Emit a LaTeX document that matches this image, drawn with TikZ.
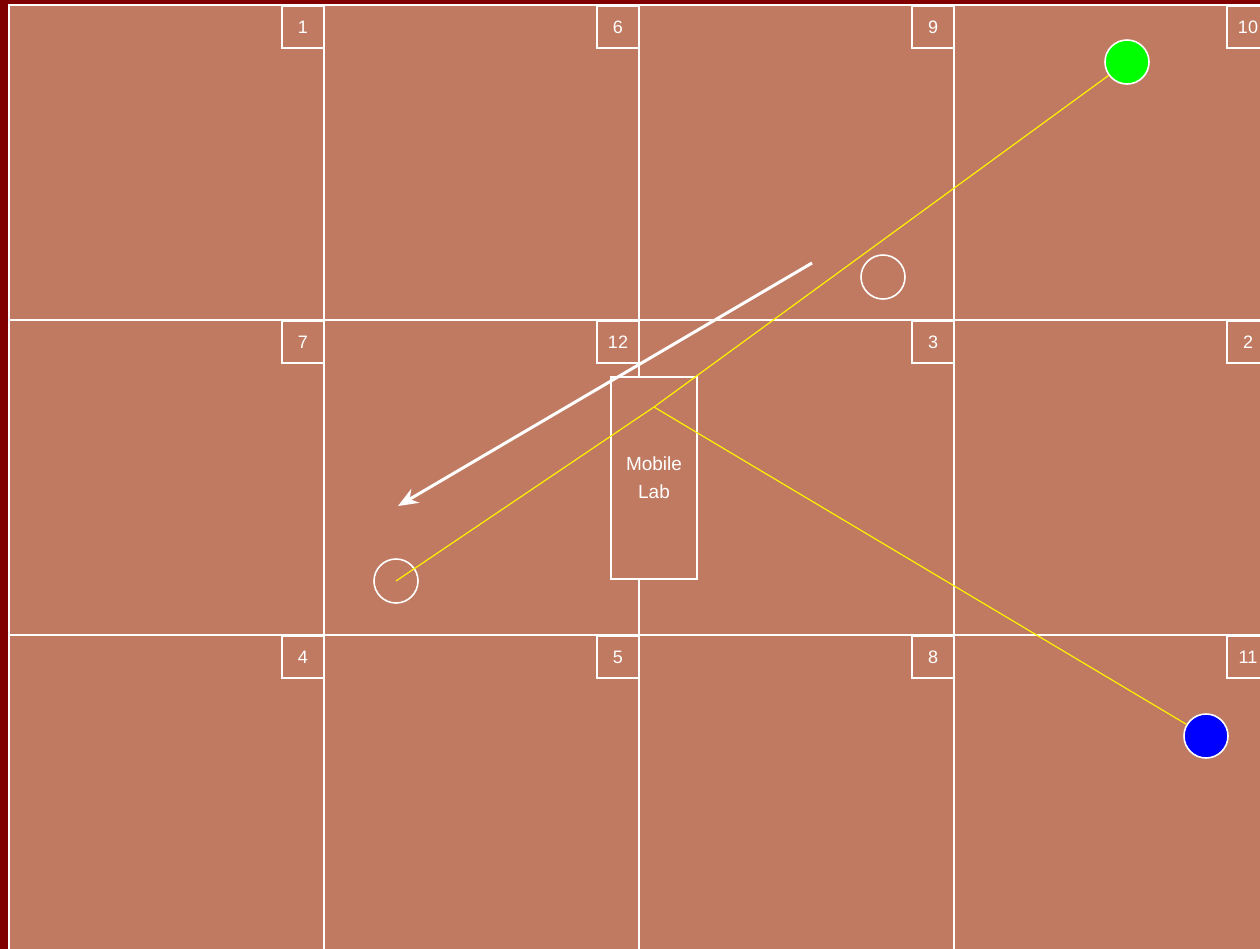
\documentclass[tikz,border=0pt]{standalone}
\usepackage{fontspec}
\setmainfont{Liberation Sans}
\usetikzlibrary{arrows.meta}
\definecolor{floorbrown}{RGB}{192,122,98}
\definecolor{edgered}{RGB}{128,0,0}

\begin{document}
\begin{tikzpicture}[x=0.5pt,y=-0.5pt,
    cellbox/.style={draw=white,line width=1pt,fill=floorbrown},
    tagbox/.style={draw=white,line width=1pt,anchor=north east,minimum width=21pt,
      minimum height=21pt,inner sep=0pt,text=white,font=\fontsize{9}{10}\selectfont},
    labbox/.style={draw=white,line width=0.8pt,minimum width=43pt,minimum height=101pt,
      inner sep=0pt,align=center,text=white,font=\fontsize{9.5}{14}\selectfont},
    marker/.style={circle,draw=white,line width=0.8pt,minimum size=22pt,inner sep=0pt},
    link/.style={yellow,line width=0.6pt}]
  % Frame and floor grid.  One unit is one pixel of the 1260x949 plan.
  \fill[edgered] (0,0) rectangle (1260,949);
  \useasboundingbox (0,0) rectangle (1260,949);
  \clip (0,0) rectangle (1260,949);
  \foreach \cx/\cy/\num in {0/0/1,1/0/6,2/0/9,3/0/10,0/1/7,1/1/12,2/1/3,3/1/2,
      0/2/4,1/2/5,2/2/8,3/2/11}{
    \draw[cellbox] ({9+315*\cx},{5+315*\cy}) rectangle +(315,315);
  }
  \foreach \cx/\cy/\num in {0/0/1,1/0/6,2/0/9,3/0/10,0/1/7,1/1/12,2/1/3,3/1/2,
      0/2/4,1/2/5,2/2/8,3/2/11}{
    \node[tagbox] (tag\num) at ({325+315*\cx},{5+315*\cy}) {\num};
  }

  % Mobile lab and the tracked objects.
  \node[labbox,fill=floorbrown] (mobilelab) at (654,478) {Mobile\\Lab};
  \coordinate (hub) at (654,407);
  \node[marker,fill=green] (goal) at (1127,62) {};
  \node[marker,fill=blue] (rover) at (1206,736) {};
  \node[marker] (ghostA) at (883,277) {};
  \node[marker] (ghostB) at (396,581) {};

  \draw[link] (hub) -- (goal);
  \draw[link] (hub) -- (rover);
  \draw[link] (hub) -- (ghostB.center);

  % Heading arrow.
  \coordinate (headfrom) at (812,263);
  \coordinate (headto) at (398,506);
  \draw[white,line width=1.5pt,-{Stealth[length=10pt,width=8pt]}] (headfrom) -- (headto);
\end{tikzpicture}
\end{document}
